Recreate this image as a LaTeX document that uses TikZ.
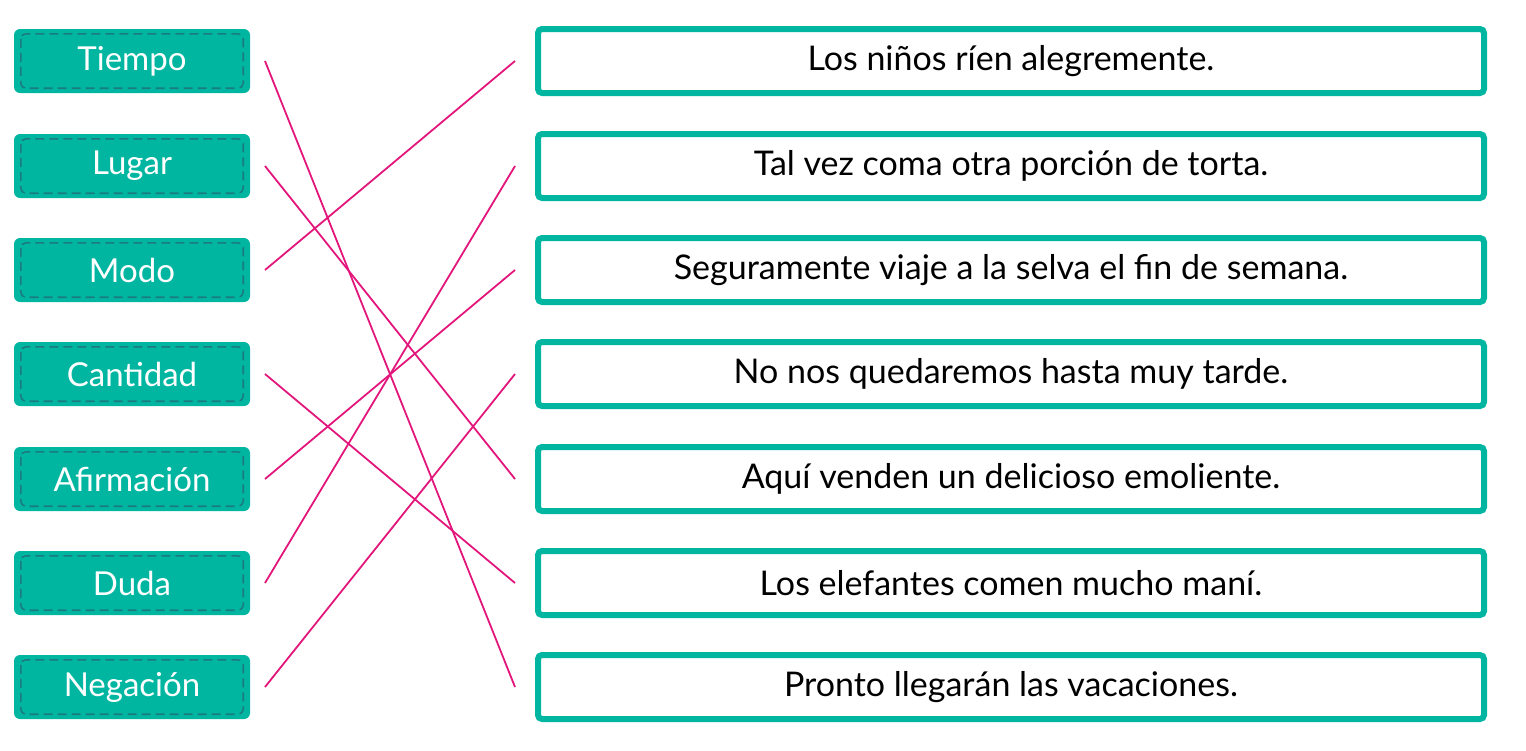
\documentclass[tikz,border=0pt]{standalone}
\usepackage{fontspec}
\setmainfont{Lato}
\usetikzlibrary{calc}
\definecolor{teal1}{HTML}{00B6A1}
\definecolor{tealdk}{HTML}{1B7C80}
\definecolor{mag}{HTML}{E2167B}
\tikzset{
  lbox/.style={fill=teal1, rounded corners=6pt, minimum width=236pt, minimum height=64pt, inner sep=0pt, text=white, font=\fontsize{33}{38}\selectfont},
  ldash/.style={draw=tealdk, dashed, dash pattern=on 9pt off 5pt, line width=1.6pt, rounded corners=5pt},
  rbox/.style={draw=teal1, line width=6pt, rounded corners=4pt, fill=white, minimum width=946pt, minimum height=64pt, inner sep=0pt, text=black, font=\fontsize{34}{40}\selectfont},
  link/.style={draw=mag, line width=1.8pt}
}
\begin{document}
\begin{tikzpicture}[x=1pt,y=-1pt]
\useasboundingbox (0,0) rectangle (1526,750);
\foreach \i/\y/\t in {1/61/Tiempo,2/166/Lugar,3/270/Modo,4/374/Cantidad,5/479/Afirmación,6/583/Duda,7/687/Negación}{
  \node[lbox] (L\i) at (132,\y) {\t};
  \draw[ldash] ($(L\i.north west)+(7,5)$) rectangle ($(L\i.south east)+(-7,-5)$);
  \coordinate (a\i) at (265,\y);
}
\foreach \i/\y/\t in {1/61/Los niños ríen alegremente.,2/166/Tal vez coma otra porción de torta.,3/270/Seguramente viaje a la selva el fin de semana.,4/374/No nos quedaremos hasta muy tarde.,5/479/Aquí venden un delicioso emoliente.,6/583/Los elefantes comen mucho maní.,7/687/Pronto llegarán las vacaciones.}{
  \node[rbox] (R\i) at (1011,\y) {\t};
  \coordinate (b\i) at (515,\y);
}
\draw[link] (a1) -- (b7);
\draw[link] (a2) -- (b5);
\draw[link] (a3) -- (b1);
\draw[link] (a4) -- (b6);
\draw[link] (a5) -- (b3);
\draw[link] (a6) -- (b2);
\draw[link] (a7) -- (b4);
\end{tikzpicture}
\end{document}
